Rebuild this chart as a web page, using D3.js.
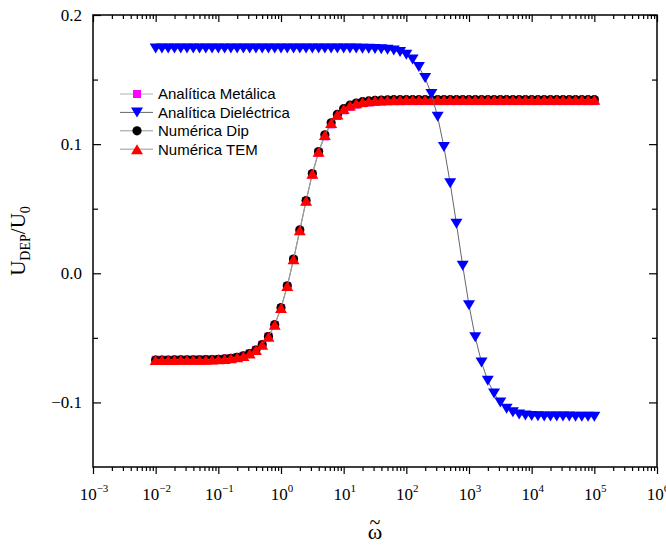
<!DOCTYPE html>
<html>
<head>
<meta charset="utf-8">
<title>UDEP/U0</title>
<script src="https://cdn.jsdelivr.net/npm/d3@7"></script>
<style>
  * { margin: 0; padding: 0; }
  body { background: #fff; }
  svg { display: block; }
</style>
</head>
<body>
<div id="chart"></div>
<script>
// log10 of the normalised frequency, 10 points per decade
var logOmega = [
  -2.0, -1.9, -1.8, -1.7, -1.6, -1.5, -1.4, -1.3, -1.2, -1.1,
  -1.0, -0.9, -0.8, -0.7, -0.6, -0.5, -0.4, -0.3, -0.2, -0.1,
   0.0,  0.1,  0.2,  0.3,  0.4,  0.5,  0.6,  0.7,  0.8,  0.9,
   1.0,  1.1,  1.2,  1.3,  1.4,  1.5,  1.6,  1.7,  1.8,  1.9,
   2.0,  2.1,  2.2,  2.3,  2.4,  2.5,  2.6,  2.7,  2.8,  2.9,
   3.0,  3.1,  3.2,  3.3,  3.4,  3.5,  3.6,  3.7,  3.8,  3.9,
   4.0,  4.1,  4.2,  4.3,  4.4,  4.5,  4.6,  4.7,  4.8,  4.9,
   5.0
];

var analiticaMetalica = [
  -0.0670, -0.0670, -0.0670, -0.0670, -0.0669, -0.0669, -0.0669, -0.0668, -0.0668, -0.0667,
  -0.0665, -0.0662, -0.0657, -0.0650, -0.0639, -0.0621, -0.0593, -0.0553, -0.0490, -0.0400,
  -0.0270, -0.0101,  0.0105,  0.0330,  0.0557,  0.0764,  0.0933,  0.1060,  0.1153,  0.1218,
   0.1262,  0.1289,  0.1306,  0.1317,  0.1323,  0.1327,  0.1329,  0.1331,  0.1332,  0.1332,
   0.1333,  0.1333,  0.1333,  0.1333,  0.1333,  0.1333,  0.1333,  0.1333,  0.1333,  0.1333,
   0.1333,  0.1333,  0.1333,  0.1333,  0.1333,  0.1333,  0.1333,  0.1333,  0.1333,  0.1333,
   0.1333,  0.1333,  0.1333,  0.1333,  0.1333,  0.1333,  0.1333,  0.1333,  0.1333,  0.1333,
   0.1333
];

var analiticaDielectrica = [
   0.1740,  0.1740,  0.1740,  0.1740,  0.1740,  0.1740,  0.1740,  0.1740,  0.1740,  0.1740,
   0.1740,  0.1740,  0.1740,  0.1740,  0.1740,  0.1740,  0.1740,  0.1740,  0.1740,  0.1740,
   0.1740,  0.1740,  0.1740,  0.1740,  0.1740,  0.1740,  0.1740,  0.1740,  0.1740,  0.1740,
   0.1740,  0.1740,  0.1740,  0.1739,  0.1738,  0.1737,  0.1735,  0.1731,  0.1725,  0.1713,
   0.1692,  0.1655,  0.1597,  0.1512,  0.1388,  0.1212,  0.0978,  0.0697,  0.0383,  0.0058,
  -0.0248, -0.0496, -0.0690, -0.0832, -0.0930, -0.1000, -0.1048, -0.1077, -0.1093, -0.1101,
  -0.1105, -0.1107, -0.1108, -0.1108, -0.1109, -0.1109, -0.1109, -0.1110, -0.1110, -0.1110,
  -0.1110
];

var numericaDip = [
  -0.0672, -0.0672, -0.0672, -0.0671, -0.0671, -0.0671, -0.0670, -0.0670, -0.0669, -0.0668,
  -0.0666, -0.0663, -0.0658, -0.0651, -0.0640, -0.0622, -0.0594, -0.0553, -0.0490, -0.0398,
  -0.0266, -0.0097,  0.0110,  0.0336,  0.0563,  0.0772,  0.0943,  0.1072,  0.1165,  0.1231,
   0.1275,  0.1302,  0.1318,  0.1329,  0.1335,  0.1339,  0.1341,  0.1343,  0.1344,  0.1344,
   0.1345,  0.1345,  0.1345,  0.1345,  0.1345,  0.1345,  0.1345,  0.1345,  0.1345,  0.1345,
   0.1345,  0.1345,  0.1345,  0.1345,  0.1345,  0.1345,  0.1345,  0.1345,  0.1345,  0.1345,
   0.1345,  0.1345,  0.1345,  0.1345,  0.1345,  0.1345,  0.1345,  0.1345,  0.1345,  0.1345,
   0.1345
];

var numericaTEM = [
  -0.0671, -0.0671, -0.0671, -0.0671, -0.0670, -0.0670, -0.0670, -0.0669, -0.0669, -0.0668,
  -0.0666, -0.0663, -0.0658, -0.0651, -0.0640, -0.0622, -0.0594, -0.0554, -0.0491, -0.0399,
  -0.0268, -0.0099,  0.0108,  0.0334,  0.0561,  0.0770,  0.0941,  0.1070,  0.1163,  0.1229,
   0.1273,  0.1300,  0.1316,  0.1327,  0.1333,  0.1337,  0.1339,  0.1341,  0.1342,  0.1343,
   0.1344,  0.1344,  0.1344,  0.1344,  0.1344,  0.1344,  0.1344,  0.1344,  0.1344,  0.1344,
   0.1344,  0.1344,  0.1344,  0.1344,  0.1344,  0.1344,  0.1344,  0.1344,  0.1344,  0.1344,
   0.1344,  0.1344,  0.1344,  0.1344,  0.1344,  0.1344,  0.1344,  0.1344,  0.1344,  0.1344,
   0.1344
];

var seriesNames = ["Analítica Metálica", "Analítica Dieléctrica", "Numérica Dip", "Numérica TEM"];

var xTickExponents = [-3, -2, -1, 0, 1, 2, 3, 4, 5, 6];
var yTickValues = [-0.1, 0.0, 0.1, 0.2];
var yTickLabels = ["\u22120.1", "0.0", "0.1", "0.2"];
var yMinorValues = [-0.05, 0.05, 0.15];

(function() {
  var width = 666, height = 545;
  var margin = {top: 15, right: 9, bottom: 78, left: 93};

  var svg = d3.select("#chart").append("svg")
      .attr("width", width)
      .attr("height", height);

  var x = d3.scaleLog().domain([1e-3, 1e6]).range([margin.left, width - margin.right]);
  var y = d3.scaleLinear().domain([-0.15, 0.2]).range([height - margin.bottom, margin.top]);

  var xMajor = xTickExponents.map(function(e) { return Math.pow(10, e); });
  var xMinor = [];
  xTickExponents.slice(0, -1).forEach(function(e) {
    for (var k = 2; k <= 9; k++) xMinor.push(k * Math.pow(10, e));
  });

  var bottom = height - margin.bottom, right = width - margin.right;

  // axes: x ticks outward at the bottom, everything else inward
  function drawAxis(axis, tr) {
    var g = svg.append("g").attr("transform", tr).call(axis);
    g.selectAll(".domain").remove();
    g.selectAll(".tick line").attr("stroke", "#000").attr("stroke-width", 1.2);
    g.selectAll(".tick text").remove();
    return g;
  }
  drawAxis(d3.axisBottom(x).tickValues(xMajor).tickSize(7), "translate(0," + bottom + ")");
  drawAxis(d3.axisBottom(x).tickValues(xMinor).tickSize(4), "translate(0," + bottom + ")");
  drawAxis(d3.axisTop(x).tickValues(xMajor).tickSize(-7), "translate(0," + margin.top + ")");
  drawAxis(d3.axisTop(x).tickValues(xMinor).tickSize(-4), "translate(0," + margin.top + ")");
  drawAxis(d3.axisLeft(y).tickValues(yTickValues).tickSize(-8), "translate(" + margin.left + ",0)");
  drawAxis(d3.axisLeft(y).tickValues(yMinorValues).tickSize(-5), "translate(" + margin.left + ",0)");
  drawAxis(d3.axisRight(y).tickValues(yTickValues).tickSize(-8), "translate(" + right + ",0)");
  drawAxis(d3.axisRight(y).tickValues(yMinorValues).tickSize(-5), "translate(" + right + ",0)");

  svg.append("rect")
      .attr("x", margin.left).attr("y", margin.top)
      .attr("width", right - margin.left).attr("height", bottom - margin.top)
      .attr("fill", "none").attr("stroke", "#000").attr("stroke-width", 1.5);

  // tick labels
  var serif = "'Times New Roman', 'Liberation Serif', serif";
  var xl = svg.append("g").attr("font-family", serif).attr("fill", "#000");
  xTickExponents.forEach(function(e) {
    var t = xl.append("text")
        .attr("x", x(Math.pow(10, e)) + 1)
        .attr("y", bottom + 33)
        .attr("text-anchor", "middle")
        .attr("font-size", 17);
    t.append("tspan").text("10");
    t.append("tspan").attr("dy", -8).attr("font-size", 11)
        .text(e < 0 ? "\u2212" + (-e) : String(e));
  });

  var yl = svg.append("g").attr("font-family", serif).attr("fill", "#000");
  yTickValues.forEach(function(v, i) {
    yl.append("text")
        .attr("x", margin.left - 11)
        .attr("y", y(v))
        .attr("dy", "0.35em")
        .attr("text-anchor", "end")
        .attr("font-size", 17)
        .text(yTickLabels[i]);
  });

  // axis titles
  var yt = svg.append("text")
      .attr("transform", "translate(25," + ((margin.top + bottom) / 2) + ") rotate(-90)")
      .attr("text-anchor", "middle")
      .attr("font-family", serif)
      .attr("font-size", 21);
  yt.append("tspan").text("U");
  yt.append("tspan").attr("dy", 5).attr("font-size", 14).text("DEP");
  yt.append("tspan").attr("dy", -5).text("/U");
  yt.append("tspan").attr("dy", 5).attr("font-size", 14).text("0");

  var cx = (margin.left + right) / 2;
  svg.append("text").attr("x", cx).attr("y", 539)
      .attr("text-anchor", "middle").attr("font-family", serif).attr("font-size", 22)
      .text("\u03c9");
  svg.append("text").attr("x", cx).attr("y", 529)
      .attr("text-anchor", "middle").attr("font-family", serif).attr("font-size", 20)
      .text("~");

  // marker shapes
  var shapes = {
    square: function(g) { g.append("rect").attr("x", -4).attr("y", -4).attr("width", 8).attr("height", 8); },
    down: function(g) { g.append("path").attr("d", "M-6,-5L6,-5L0,5Z"); },
    circle: function(g) { g.append("circle").attr("r", 4.6); },
    up: function(g) { g.append("path").attr("d", "M-6,5L6,5L0,-5Z"); }
  };

  var series = [
    {name: seriesNames[0], values: analiticaMetalica, color: "#ff00ff", line: "#b0b0b0", shape: "square"},
    {name: seriesNames[2], values: numericaDip, color: "#000000", line: "#999999", shape: "circle"},
    {name: seriesNames[3], values: numericaTEM, color: "#ff0000", line: "#999999", shape: "up"},
    {name: seriesNames[1], values: analiticaDielectrica, color: "#0000ff", line: "#666666", shape: "down"}
  ];

  var line = d3.line()
      .x(function(d) { return x(Math.pow(10, d[0])); })
      .y(function(d) { return y(d[1]); });

  series.forEach(function(s) {
    var pts = logOmega.map(function(l, i) { return [l, s.values[i]]; });
    var g = svg.append("g");
    g.append("path").attr("d", line(pts))
        .attr("fill", "none").attr("stroke", s.line).attr("stroke-width", 1);
    g.selectAll("g.pt").data(pts).enter().append("g")
        .attr("class", "pt")
        .attr("fill", s.color)
        .attr("transform", function(d) { return "translate(" + x(Math.pow(10, d[0])) + "," + y(d[1]) + ")"; })
        .each(function() { shapes[s.shape](d3.select(this)); });
  });

  // legend, in the original order
  var legendOrder = [series[0], series[3], series[1], series[2]];
  var lg = svg.append("g").attr("font-family", "Arial, 'Liberation Sans', sans-serif");
  legendOrder.forEach(function(s, i) {
    var ly = 94 + i * 18.4;
    lg.append("line").attr("x1", 120).attr("x2", 153).attr("y1", ly).attr("y2", ly)
        .attr("stroke", s.line).attr("stroke-width", 1);
    var m = lg.append("g").attr("fill", s.color).attr("transform", "translate(137," + ly + ")");
    shapes[s.shape](m);
    lg.append("text").attr("x", 158).attr("y", ly).attr("dy", "0.36em")
        .attr("font-size", 15).attr("fill", "#000").text(s.name);
  });
})();
</script>
</body>
</html>
